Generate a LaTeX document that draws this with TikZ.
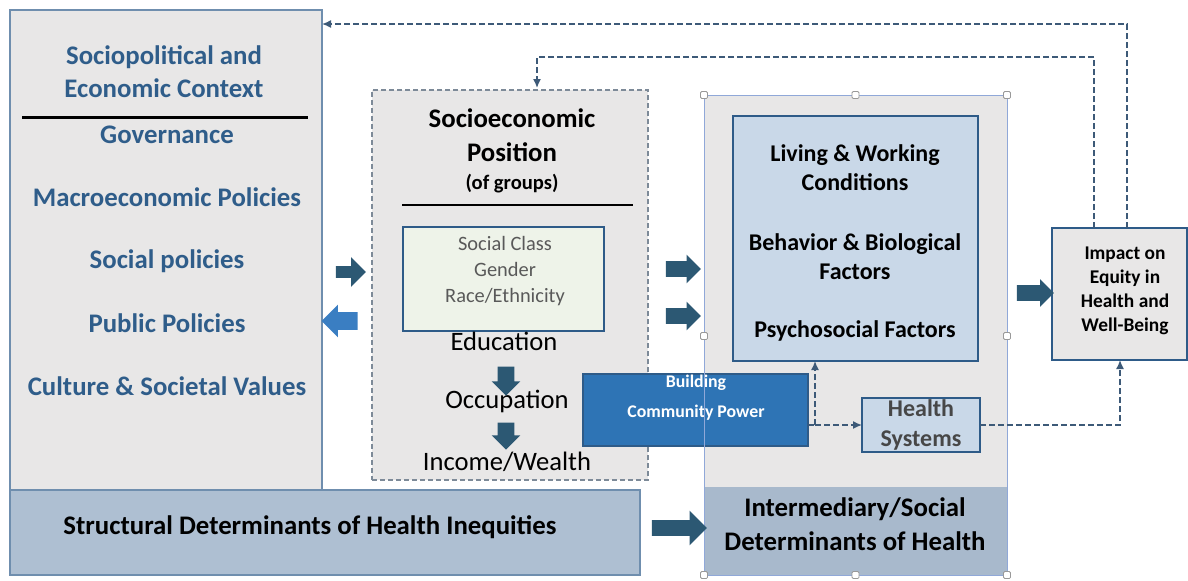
\documentclass[tikz,border=0pt]{standalone}
\usepackage{fontspec}
\setmainfont{Carlito}
\usetikzlibrary{shapes.arrows,arrows.meta}
\definecolor{boxgray}{HTML}{E8E7E7}
\definecolor{navy}{HTML}{2E5B88}
\definecolor{dtext}{HTML}{2F5D8A}
\definecolor{edgeblue}{HTML}{6F8EAE}
\definecolor{steel}{HTML}{AEBFD2}
\definecolor{steeltwo}{HTML}{A8B9CC}
\definecolor{lightblue}{HTML}{C9D8E8}
\definecolor{arrowdark}{HTML}{2C5873}
\definecolor{arrowlight}{HTML}{3A7EC2}
\definecolor{bcpblue}{HTML}{2E74B5}
\definecolor{greenish}{HTML}{EEF3E9}
\definecolor{selblue}{HTML}{90A8D8}
\definecolor{dashcol}{HTML}{3D5A78}
\definecolor{sepdash}{HTML}{7D8A98}
\begin{document}
\begin{tikzpicture}[x=0.5pt,y=-0.5pt,
  rect/.style={inner sep=0pt,outer sep=0pt},
  bigt/.style={font=\bfseries\fontsize{13.4}{16.5}\selectfont,align=center,inner sep=0pt},
  bluet/.style={bigt,text=dtext},
  blockarrow/.style n args={3}{single arrow,draw=none,fill=arrowdark,inner xsep=0pt,inner ysep=#1,outer sep=0pt,
     minimum width=0pt,single arrow head extend=#2,minimum height=#3},
  downarrow/.style n args={3}{single arrow,draw=none,fill=arrowdark,inner xsep=#1,inner ysep=0pt,outer sep=0pt,
     minimum width=0pt,single arrow head extend=#2,minimum height=#3,shape border rotate=270},
  fb/.style={draw=dashcol,dash pattern=on 3pt off 1.5pt,line width=0.75pt,
     -{Latex[length=4.5pt,width=4pt]}},
  fbline/.style={draw=dashcol,dash pattern=on 3pt off 1.5pt,line width=0.75pt},
  handle/.style={draw=gray!80,fill=white,line width=0.4pt,minimum size=3.5pt,inner sep=0pt,rounded corners=0.6pt}
]
\useasboundingbox (0,0) rectangle (1188,580);

% left context box
\node[rect,draw=edgeblue,line width=0.8pt,fill=boxgray,minimum width=156pt,minimum height=240pt] (ctx) at (166,250) {};
\node[bluet] (ctxtitle) at (164,71.5) {Sociopolitical and\\Economic Context};
\draw[line width=1.5pt] (22,117) -- (308,117);
\node[bluet] (gov) at (167,135) {Governance};
\node[bluet] (macro) at (167,197) {Macroeconomic Policies};
\node[bluet] (social) at (167,261) {Social policies};
\node[bluet] (public) at (167,323) {Public Policies};
\node[bluet] (culture) at (167,386) {Culture \& Societal Values};

% structural box
\node[rect,draw=edgeblue,line width=0.8pt,fill=steel,minimum width=315pt,minimum height=42.5pt] (struct) at (325,532.5) {};
\node[bigt] (structt) at (310,527) {Structural Determinants of Health Inequities};

% SEP box
\node[rect,draw=sepdash,dash pattern=on 2.5pt off 1.5pt,line width=0.6pt,fill=boxgray,minimum width=138pt,minimum height=195pt] (sep) at (510,285) {};
\node[bigt,font=\bfseries\fontsize{13.4}{17}\selectfont] (septitle) at (512,135) {Socioeconomic\\Position};
\node[font=\bfseries\fontsize{10.3}{12}\selectfont,inner sep=0pt] (sepsub) at (512,184) {(of groups)};
\draw[line width=1pt] (402,205) -- (633,205);
\node[rect,draw=navy,line width=0.8pt,fill=greenish,minimum width=100.5pt,minimum height=52pt] (green) at (503.5,279) {};
\node[font=\fontsize{10.2}{13}\selectfont,text=black!65,align=center,inner sep=0pt] (greent) at (505,271) {Social Class\\Gender\\Race/Ethnicity};
\node[font=\fontsize{13.3}{15}\selectfont,inner sep=0pt] (edu) at (504,341) {Education};
\node[font=\fontsize{13.3}{15}\selectfont,inner sep=0pt] (occ) at (507,401) {Occupation};
\node[font=\fontsize{13.3}{15}\selectfont,inner sep=0pt] (inc) at (507,462) {Income/Wealth};
\node[downarrow={4pt}{3pt}{14.5pt}] (d1) at (506,377) {};
\node[downarrow={4pt}{3pt}{13.5pt}] (d2) at (506,432) {};

% intermediary region
\node[rect,fill=boxgray,minimum width=151.5pt,minimum height=240pt] (inter) at (855.5,335) {};
\node[rect,fill=steeltwo,minimum width=151.5pt,minimum height=44pt] (interbot) at (855.5,531) {};
\node[bigt,font=\bfseries\fontsize{13.4}{17}\selectfont] (intert) at (855,524) {Intermediary/Social\\Determinants of Health};
\node[rect,draw=navy,line width=1.2pt,fill=lightblue,minimum width=122.5pt,minimum height=122.5pt] (factors) at (855.5,238.5) {};
\node[bigt,font=\bfseries\fontsize{12}{14.5}\selectfont] (f1) at (855,167.5) {Living \& Working\\Conditions};
\node[bigt,font=\bfseries\fontsize{12}{14.5}\selectfont] (f2) at (855,256.5) {Behavior \& Biological\\Factors};
\node[bigt,font=\bfseries\fontsize{12}{14.5}\selectfont] (f3) at (855,331) {Psychosocial Factors};
\node[rect,draw=navy,line width=0.8pt,fill=lightblue,minimum width=59pt,minimum height=27pt] (hs) at (921,425) {};
\node[bigt,font=\bfseries\fontsize{12}{15}\selectfont,text=black!72] (hst) at (921,424.5) {Health\\Systems};
\node[rect,draw=navy,line width=0.8pt,fill=bcpblue,minimum width=112.5pt,minimum height=36pt] (bcp) at (695.5,410) {};
\node[bigt,font=\bfseries\fontsize{8.9}{15}\selectfont,text=white] (bcpt) at (696,398) {Building\\Community Power};
% selection outline
\draw[selblue,line width=0.5pt] (inter.north west) rectangle (inter.south east);
\foreach \hx/\hy [count=\i] in {704/95,855.5/95,1007/95,704/336,1007/336,704/575,855.5/575,1007/575}
  \node[handle] (h\i) at (\hx,\hy) {};

% impact box
\node[rect,draw=navy,line width=1.2pt,fill=boxgray,minimum width=67.5pt,minimum height=66pt] (impact) at (1119.5,294) {};
\node[bigt,font=\bfseries\fontsize{9.7}{12}\selectfont] (impactt) at (1125,291) {Impact on\\Equity in\\Health and\\Well-Being};

% block arrows
\node[blockarrow={2.75pt}{4.5pt}{15pt}] (a1) at (348,272) {};
\node[blockarrow={4.25pt}{3.75pt}{18pt},fill=arrowlight,shape border rotate=180] (a2) at (344,321) {};
\node[blockarrow={3.75pt}{3.25pt}{17.5pt}] (a3) at (679.5,269) {};
\node[blockarrow={3.75pt}{3.25pt}{17.5pt}] (a4) at (679.5,316) {};
\node[blockarrow={3.75pt}{3pt}{18.5pt}] (a5) at (1031.5,293) {};
\node[blockarrow={3.75pt}{4.75pt}{27.5pt}] (a6) at (675.5,528) {};

% dashed connectors
\coordinate (j) at (815,425);
\draw[fbline] (bcp.east |- j) -- (j);
\draw[fb] (j) -- (j |- factors.south);
\draw[fb] (j) -- (hs.west);
\coordinate (k) at (1120,425);
\draw[fb] (hs.east) -- (k) -- (k |- impact.south);
\coordinate (t1) at (1094,57);
\coordinate (t2) at (1127,24);
\draw[fb] (t1 |- impact.north) -- (t1) -- (537,57) -- (537,88);
\draw[fb] (t2 |- impact.north) -- (t2) -- (ctx.east |- t2);
\end{tikzpicture}
\end{document}
